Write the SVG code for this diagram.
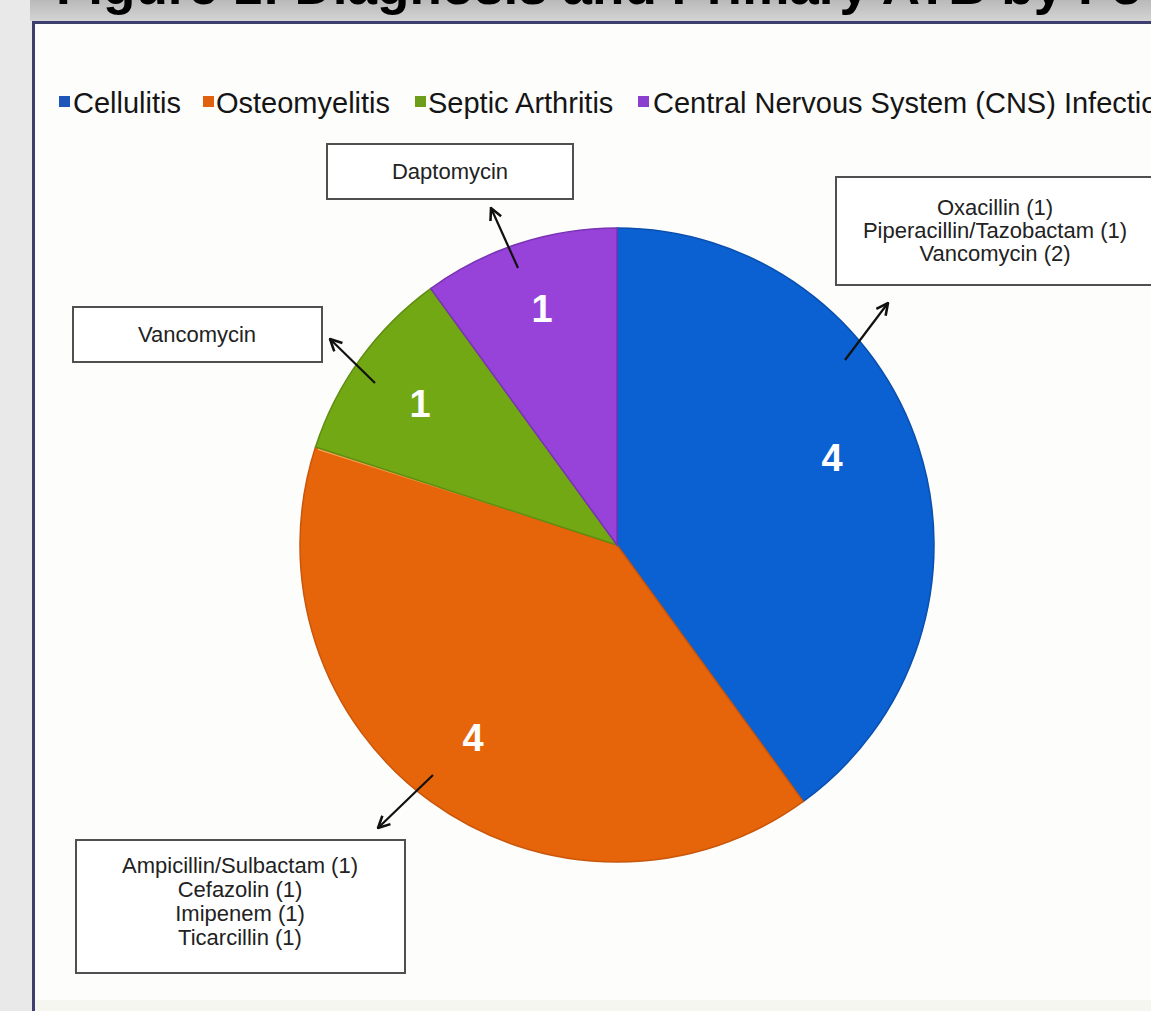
<svg xmlns="http://www.w3.org/2000/svg" width="1151" height="1011" viewBox="0 0 1151 1011">
  <defs>
    <linearGradient id="band" x1="0" y1="0" x2="0" y2="1">
      <stop offset="0" stop-color="#b9b9b9"/>
      <stop offset="1" stop-color="#d4d4d4"/>
    </linearGradient>
    <marker id="arr" viewBox="0 0 12 12" refX="11" refY="6" markerWidth="14" markerHeight="14" markerUnits="userSpaceOnUse" orient="auto">
      <path d="M1,1 L11,6 L1,11" fill="none" stroke="#111" stroke-width="2.2" stroke-linejoin="miter"/>
    </marker>
    <style>
      .lg { font-family: "Liberation Sans", Arial, sans-serif; font-size: 29px; fill: #151515; }
      .bx { fill: #ffffff; stroke: #505050; stroke-width: 2; }
      .bt { font-family: "Liberation Sans", Arial, sans-serif; font-size: 22px; fill: #222222; text-anchor: middle; }
      .num { font-family: "Liberation Sans", Arial, sans-serif; font-size: 38px; font-weight: bold; fill: #ffffff; text-anchor: middle; }
      .arrow { stroke: #111; stroke-width: 2.2; fill: none; marker-end: url(#arr); }
    </style>
  </defs>

  <!-- background / slide frame -->
  <rect x="0" y="0" width="1151" height="1011" fill="#e9e9e9"/>
  <rect x="30" y="0" width="1121" height="21" fill="url(#band)"/>
  <text x="56" y="4" font-family="Liberation Sans, Arial, sans-serif" font-size="53" font-weight="bold" fill="#000">Figure 1: Diagnosis and Primary ATB by Fo</text>
  <rect x="35" y="24" width="1116" height="987" fill="#fdfdfc"/>
  <rect x="35" y="1000" width="1116" height="11" fill="#f6f6f0"/>
  <rect x="33" y="21" width="1118" height="3" fill="#3d406e"/>
  <rect x="32" y="21" width="3" height="990" fill="#3d406e"/>

  <!-- legend -->
  <g id="legend">
    <rect x="59" y="96" width="11" height="11" fill="#1d55b8"/>
    <text class="lg" x="73" y="113">Cellulitis</text>
    <rect x="203" y="96" width="11" height="11" fill="#e0600e"/>
    <text class="lg" x="216" y="113">Osteomyelitis</text>
    <rect x="415" y="96" width="11" height="11" fill="#6c9e1c"/>
    <text class="lg" x="428" y="113">Septic Arthritis</text>
    <rect x="638" y="96" width="11" height="11" fill="#8a3fcf"/>
    <text class="lg" x="653" y="113">Central Nervous System (CNS) Infectio</text>
  </g>

  <!-- pie slices -->
  <g id="slice-cellulitis">
    <path d="M617,545 L617,228 A317,317 0 0 1 803.33,801.46 Z" fill="#0b60d2" stroke="#0a4fae" stroke-width="1.5"/>
    <text class="num" x="832" y="471">4</text>
  </g>
  <g id="slice-osteomyelitis">
    <path d="M617,545 L803.33,801.46 A317,317 0 0 1 315.51,447.04 Z" fill="#e7650a" stroke="#c9560a" stroke-width="1.5"/>
    <path d="M318,449 L612,542" stroke="#f6a04e" stroke-width="2" fill="none"/>
    <text class="num" x="473" y="751">4</text>
  </g>
  <g id="slice-septic-arthritis">
    <path d="M617,545 L315.51,447.04 A317,317 0 0 1 430.67,288.54 Z" fill="#72a813" stroke="#5f8d10" stroke-width="1.5"/>
    <text class="num" x="420" y="417">1</text>
  </g>
  <g id="slice-cns">
    <path d="M617,545 L430.67,288.54 A317,317 0 0 1 617,228 Z" fill="#9742d8" stroke="#7a33b3" stroke-width="1.5"/>
    <text class="num" x="542" y="322">1</text>
  </g>

  <!-- label boxes -->
  <g id="box-daptomycin">
    <rect class="bx" x="327" y="144" width="246" height="55"/>
    <text class="bt" x="450" y="179">Daptomycin</text>
  </g>
  <g id="box-vancomycin">
    <rect class="bx" x="73" y="307" width="249" height="55"/>
    <text class="bt" x="197" y="342">Vancomycin</text>
  </g>
  <g id="box-cellulitis">
    <rect class="bx" x="836" y="177" width="320" height="108"/>
    <text class="bt" x="995" y="215">Oxacillin (1)</text>
    <text class="bt" x="995" y="238">Piperacillin/Tazobactam (1)</text>
    <text class="bt" x="995" y="261">Vancomycin (2)</text>
  </g>
  <g id="box-osteomyelitis">
    <rect class="bx" x="76" y="840" width="329" height="133"/>
    <text class="bt" x="240" y="873">Ampicillin/Sulbactam (1)</text>
    <text class="bt" x="240" y="897">Cefazolin (1)</text>
    <text class="bt" x="240" y="921">Imipenem (1)</text>
    <text class="bt" x="240" y="945">Ticarcillin (1)</text>
  </g>

  <!-- connectors -->
  <g id="connectors">
    <line class="arrow" x1="518" y1="268" x2="491" y2="208"/>
    <line class="arrow" x1="375" y1="383" x2="330" y2="339"/>
    <line class="arrow" x1="845" y1="360" x2="888" y2="303"/>
    <line class="arrow" x1="433" y1="775" x2="378" y2="828"/>
  </g>
</svg>
